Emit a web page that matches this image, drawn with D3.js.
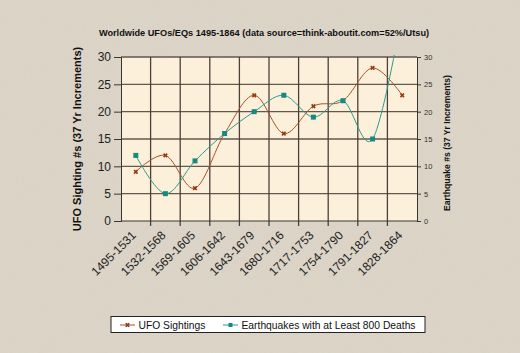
<!DOCTYPE html>
<html>
<head>
<meta charset="utf-8">
<script src="https://cdn.jsdelivr.net/npm/d3@7"></script>
<style>
  html, body { margin: 0; padding: 0; background: #ddd6c9; }
  svg { display: block; font-family: Arial, "Liberation Sans", sans-serif; }
</style>
</head>
<body>
<div id="chart"></div>
<script>
// 数据
const periods = ['1495-1531', '1532-1568', '1569-1605', '1606-1642', '1643-1679',
                 '1680-1716', '1717-1753', '1754-1790', '1791-1827', '1828-1864'];
const ufoSightings = [9, 12, 6, 16, 23, 16, 21, 22, 28, 23];
const earthquakes = [12, 5, 11, 16, 20, 23, 19, 22, 15, 38];
const yTicks = [0, 5, 10, 15, 20, 25, 30];

const W = 520, H = 353;
const plot = { left: 121, right: 417, top: 57, bottom: 221 };

const svg = d3.select('#chart').append('svg')
    .attr('width', W)
    .attr('height', H);

// 纸张纹理
const defs = svg.append('defs');
const noise = defs.append('filter').attr('id', 'grain');
noise.append('feTurbulence')
    .attr('type', 'fractalNoise')
    .attr('baseFrequency', 0.9)
    .attr('numOctaves', 2)
    .attr('seed', 4);
noise.append('feColorMatrix')
    .attr('values', '0 0 0 0 0.45  0 0 0 0 0.4  0 0 0 0 0.35  0 0 0 0.18 0');
defs.append('clipPath').attr('id', 'plotClip')
    .append('rect')
    .attr('x', plot.left).attr('y', plot.top - 2)
    .attr('width', plot.right - plot.left).attr('height', plot.bottom - plot.top + 2);

svg.append('rect').attr('width', W).attr('height', H).attr('fill', '#ddd6c9');
svg.append('rect').attr('width', W).attr('height', H).attr('filter', 'url(#grain)').attr('opacity', 0.6);

// 比例尺
const x = d3.scaleBand().domain(periods).range([plot.left, plot.right]);
const y = d3.scaleLinear().domain([0, 30]).range([plot.bottom, plot.top]);
const cx = d => x(d) + x.bandwidth() / 2;

// 绘图区
svg.append('rect')
    .attr('x', plot.left).attr('y', plot.top)
    .attr('width', plot.right - plot.left).attr('height', plot.bottom - plot.top)
    .attr('fill', '#fdf0da');

// 网格
svg.append('g')
    .selectAll('line')
    .data(yTicks.slice(1))
    .join('line')
    .attr('x1', plot.left).attr('x2', plot.right)
    .attr('y1', d => y(d)).attr('y2', d => y(d))
    .attr('stroke', '#62584b').attr('stroke-width', 1.4);

svg.append('g')
    .selectAll('line')
    .data(periods.slice(1))
    .join('line')
    .attr('x1', d => x(d)).attr('x2', d => x(d))
    .attr('y1', plot.top).attr('y2', plot.bottom + 5)
    .attr('stroke', '#4a4139').attr('stroke-width', 1.3);

// 左轴
const leftAxis = svg.append('g')
    .attr('transform', `translate(${plot.left},0)`)
    .call(d3.axisLeft(y).tickValues(yTicks).tickSize(7).tickPadding(3));
leftAxis.select('.domain').attr('stroke', '#3c3630');
leftAxis.selectAll('.tick line').attr('stroke', '#3c3630');
leftAxis.selectAll('text')
    .attr('font-size', 12).attr('fill', '#222').attr('font-family', 'Arial, sans-serif');

// 右轴
const rightAxis = svg.append('g')
    .attr('transform', `translate(${plot.right},0)`)
    .call(d3.axisRight(y).tickValues(yTicks).tickSize(4).tickPadding(3));
rightAxis.select('.domain').attr('stroke', '#3c3630');
rightAxis.selectAll('.tick line').attr('stroke', '#3c3630');
rightAxis.selectAll('text')
    .attr('font-size', 7.5).attr('fill', '#333').attr('font-family', '"Liberation Sans Narrow", Arial, sans-serif');

// 底轴
svg.append('line')
    .attr('x1', plot.left).attr('x2', plot.right)
    .attr('y1', plot.bottom).attr('y2', plot.bottom)
    .attr('stroke', '#3c3630');
svg.append('g')
    .selectAll('text')
    .data(periods)
    .join('text')
    .attr('transform', d => `translate(${cx(d) + 1},${plot.bottom + 15}) rotate(-45)`)
    .attr('text-anchor', 'end')
    .attr('font-size', 12)
    .attr('fill', '#222')
    .text(d => d);

// 曲线
const line = d3.line()
    .x((d, i) => cx(periods[i]))
    .y(d => y(d))
    .curve(d3.curveCardinal.tension(0));

const lines = svg.append('g').attr('clip-path', 'url(#plotClip)');
lines.append('path')
    .datum(ufoSightings)
    .attr('d', line)
    .attr('fill', 'none')
    .attr('stroke', '#a5522c')
    .attr('stroke-width', 1);
lines.append('path')
    .datum(earthquakes)
    .attr('d', line)
    .attr('fill', 'none')
    .attr('stroke', '#2a9c90')
    .attr('stroke-width', 1);

const star = d3.symbol().type(d3.symbolCross).size(14);
lines.append('g')
    .selectAll('path')
    .data(ufoSightings)
    .join('path')
    .attr('d', star)
    .attr('transform', (d, i) => `translate(${cx(periods[i])},${y(d)}) rotate(45)`)
    .attr('fill', '#9a3a12');
lines.append('g')
    .selectAll('rect')
    .data(earthquakes)
    .join('rect')
    .attr('x', (d, i) => cx(periods[i]) - 2.5)
    .attr('y', d => y(d) - 2.5)
    .attr('width', 5).attr('height', 5)
    .attr('fill', '#168a80');

// 标题
svg.append('text')
    .attr('x', 264).attr('y', 36)
    .attr('text-anchor', 'middle')
    .attr('font-size', 9.2).attr('font-weight', 'bold')
    .attr('fill', '#111')
    .text('Worldwide UFOs/EQs 1495-1864 (data source=think-aboutit.com=52%/Utsu)');

svg.append('text')
    .attr('transform', 'translate(81,139) rotate(-90)')
    .attr('text-anchor', 'middle')
    .attr('font-size', 11).attr('font-weight', 'bold')
    .attr('fill', '#111')
    .text('UFO Sighting #s (37 Yr Increments)');

svg.append('text')
    .attr('transform', 'translate(450,143) rotate(-90)')
    .attr('text-anchor', 'middle')
    .attr('font-size', 8.6).attr('font-weight', 'bold')
    .attr('fill', '#111')
    .text('Earthquake #s (37 Yr Increments)');

// 图例
const legend = svg.append('g');
legend.append('rect')
    .attr('x', 111).attr('y', 316.5)
    .attr('width', 314).attr('height', 16)
    .attr('fill', '#fff').attr('stroke', '#222');

const legendItems = [
    { label: 'UFO Sightings', color: '#a5522c', x: 120 },
    { label: 'Earthquakes with at Least 800 Deaths', color: '#2a9c90', x: 223 }
];
legendItems.forEach((d, i) => {
    legend.append('line')
        .attr('x1', d.x).attr('x2', d.x + 15)
        .attr('y1', 325).attr('y2', 325)
        .attr('stroke', d.color);
    if (i === 0) {
        legend.append('path')
            .attr('d', star)
            .attr('transform', `translate(${d.x + 7.5},325) rotate(45)`)
            .attr('fill', '#9a3a12');
    } else {
        legend.append('rect')
            .attr('x', d.x + 5.5).attr('y', 323)
            .attr('width', 4).attr('height', 4)
            .attr('fill', '#168a80');
    }
    legend.append('text')
        .attr('x', d.x + 18.5).attr('y', 328.8)
        .attr('font-size', 10.3).attr('fill', '#111')
        .text(d.label);
});
</script>
</body>
</html>
